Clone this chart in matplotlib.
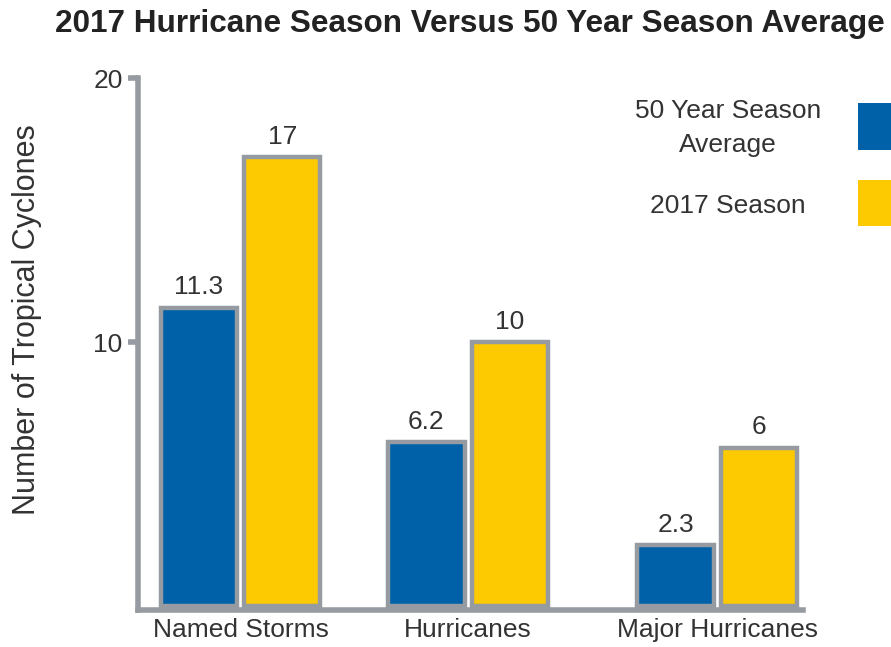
import matplotlib
matplotlib.use("Agg")
import matplotlib.pyplot as plt
from matplotlib.patches import Rectangle
import numpy as np

plt.rcParams['font.family'] = ['Liberation Sans', 'DejaVu Sans']

categories = ["Named Storms", "Hurricanes", "Major Hurricanes"]
avg_50yr = [11.3, 6.2, 2.3]
season_2017 = [17, 10, 6]
avg_labels = ["11.3", "6.2", "2.3"]
season_labels = ["17", "10", "6"]
y_ticks = [10, 20]

BLUE = "#0061a8"
YELLOW = "#fdc900"
GRAY = "#959ba0"
TEXT = "#333333"

W, H = 891, 647
fig = plt.figure(figsize=(W / 100, H / 100), dpi=100)

# axes box in pixel units
ax_l, ax_r, ax_t, ax_b = 138, 803, 78, 610
ax = fig.add_axes([ax_l / W, 1 - ax_b / H, (ax_r - ax_l) / W, (ax_b - ax_t) / H])

x = np.array([0.0, 0.955, 2.0])
bw = 0.32
off = 0.175
b1 = ax.bar(x - off, avg_50yr, bw, color=BLUE, edgecolor=GRAY, linewidth=3.2, zorder=2)
b2 = ax.bar(x + off, season_2017, bw, color=YELLOW, edgecolor=GRAY, linewidth=3.2, zorder=2)
ax.bar_label(b1, labels=avg_labels, padding=6, fontsize=19, color=TEXT)
ax.bar_label(b2, labels=season_labels, padding=6, fontsize=19, color=TEXT)

ax.set_xlim(-0.43, 2.36)
ax.set_ylim(-0.15, 20)
ax.set_xticks(x)
ax.set_xticklabels(categories, fontsize=19, color=TEXT)
ax.set_yticks(y_ticks)
ax.set_yticklabels([str(t) for t in y_ticks], fontsize=19, color=TEXT)
ax.tick_params(axis='x', length=0, pad=6)
ax.tick_params(axis='y', length=7, width=4, color=GRAY, pad=4)

for side in ("top", "right"):
    ax.spines[side].set_visible(False)
for side in ("left", "bottom"):
    ax.spines[side].set_color(GRAY)
    ax.spines[side].set_linewidth(4)
    ax.spines[side].set_zorder(3)

ax.set_ylabel("Number of Tropical Cyclones", fontsize=22, color=TEXT)
ax.yaxis.set_label_coords(-0.145, 0.545)

fig.text(470 / W, 1 - 24 / H, "2017 Hurricane Season Versus 50 Year Season Average",
         ha="center", va="center", fontsize=22.7, fontweight="bold", color="#222222")

# legend: centered labels with swatches at the right edge
legend_items = [("50 Year Season\nAverage", BLUE, 128, 103, 150),
                ("2017 Season", YELLOW, 206, 180, 226)]
for text, color, ty, top, bot in legend_items:
    fig.text(728 / W, 1 - ty / H, text, ha="center", va="center",
             fontsize=19, color=TEXT, linespacing=1.55)
    fig.patches.append(Rectangle((858 / W, 1 - bot / H), 60 / W, (bot - top) / H,
                                 transform=fig.transFigure, facecolor=color,
                                 edgecolor="none"))

fig.savefig("out.png", dpi=100)
